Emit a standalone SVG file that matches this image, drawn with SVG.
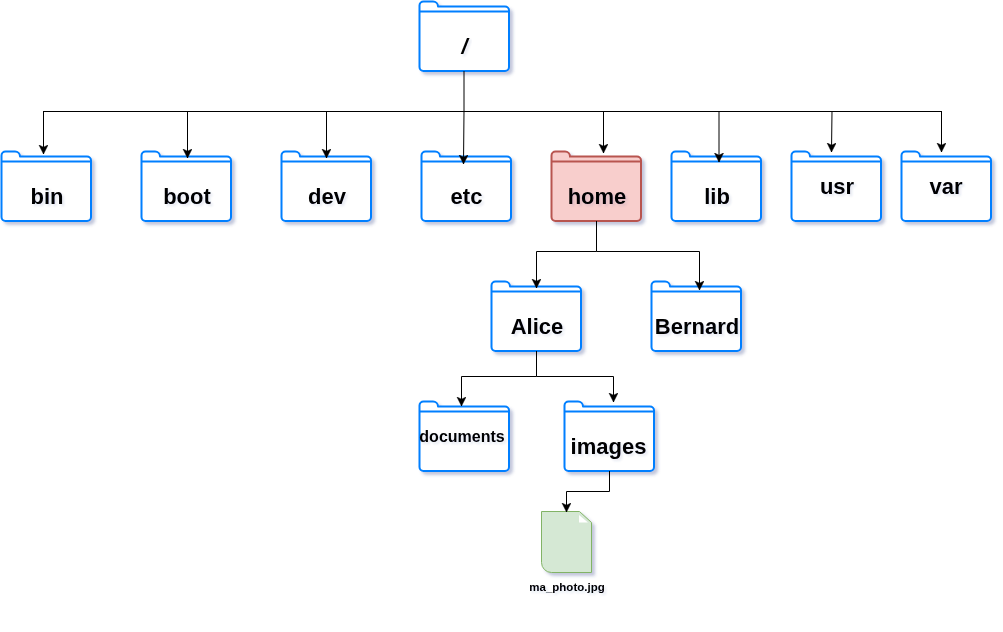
<svg xmlns="http://www.w3.org/2000/svg" xmlns:xlink="http://www.w3.org/1999/xlink" width="1003" height="632" viewBox="0 0 1003 632">
<style>
text{font-family:"Liberation Sans",Arial,sans-serif;font-weight:bold;text-anchor:middle;fill:#000}
.t{font-size:22px}
.f{fill:#fff;stroke:#007fff;stroke-width:2;stroke-linejoin:round}
.c{fill:none;stroke:#000;stroke-width:1}
.h{fill:#f8cecc;stroke:#b85450;stroke-width:2}
.sh{filter:url(#s)}
.ts{filter:url(#st)}
</style>
<defs>
<filter id="s" x="-10%" y="-10%" width="125%" height="125%"><feDropShadow dx="3" dy="3" stdDeviation="1.5" flood-color="#3a4a8a" flood-opacity="0.3"/></filter>
<filter id="st" x="-10%" y="-20%" width="125%" height="150%"><feDropShadow dx="2" dy="2" stdDeviation="1.2" flood-color="#3a4a8a" flood-opacity="0.12"/></filter>
<marker id="a" markerUnits="userSpaceOnUse" markerWidth="11" markerHeight="11" refX="9" refY="4.500" orient="auto"><path d="M0 0L9 4.500L0 9L2.200 4.500Z" fill="#000" stroke="#000" stroke-width="0.5"/></marker>
<g id="fp"><path d="M0 4a4 4 0 0 1 4-4H13.500a5 5 0 0 1 5 5H85.500a4 4 0 0 1 4 4V65.500a4 4 0 0 1-4 4H4a4 4 0 0 1-4-4Z"/><path d="M0 10H89.500" fill="none"/></g>
</defs>
<g id="root"><use xlink:href="#fp" class="f sh" transform="translate(419.500 1.500)"/><text class="t ts" x="464.500" y="54" font-style="italic">/</text></g>
<g id="bin"><use xlink:href="#fp" class="f sh" transform="translate(1.500 151.500)"/><text class="t ts" x="47" y="204">bin</text></g>
<g id="boot"><use xlink:href="#fp" class="f sh" transform="translate(141.500 151.500)"/><text class="t ts" x="187" y="204">boot</text></g>
<g id="dev"><use xlink:href="#fp" class="f sh" transform="translate(281.500 151.500)"/><text class="t ts" x="327" y="204">dev</text></g>
<g id="etc"><use xlink:href="#fp" class="f sh" transform="translate(421.500 151.500)"/><text class="t ts" x="466.500" y="204">etc</text></g>
<g id="home"><use xlink:href="#fp" class="h sh" transform="translate(551.500 151.500)"/><text class="t ts" x="597" y="204">home</text></g>
<g id="lib"><use xlink:href="#fp" class="f sh" transform="translate(671.500 151.500)"/><text class="t ts" x="717" y="204">lib</text></g>
<g id="usr"><use xlink:href="#fp" class="f sh" transform="translate(791.500 151.500)"/><text class="t ts" x="837" y="194">usr</text></g>
<g id="var"><use xlink:href="#fp" class="f sh" transform="translate(901.500 151.500)"/><text class="t ts" x="946" y="194">var</text></g>
<g id="alice"><use xlink:href="#fp" class="f sh" transform="translate(491.500 281.500)"/><text class="t ts" x="537" y="334">Alice</text></g>
<g id="bernard"><use xlink:href="#fp" class="f sh" transform="translate(651.500 281.500)"/><text class="t ts" x="697" y="334">Bernard</text></g>
<g id="documents"><use xlink:href="#fp" class="f sh" transform="translate(419.500 401.500)"/><text class="ts" font-size="16" x="462" y="442">documents</text></g>
<g id="images"><use xlink:href="#fp" class="f sh" transform="translate(564.500 401.500)"/><text class="t ts" x="608.500" y="454">images</text></g>
<g id="ma_photo">
<path class="sh" d="M541.500 511.500H579.500L591.500 522.500V572.500H551.500A10 10 0 0 1 541.500 562.500Z" fill="#d5e8d4" stroke="#82b366"/>
<path d="M579 515V522.500H588Z" fill="#fff"/>
<text class="ts" font-size="11.500" x="567" y="591">ma_photo.jpg</text>
</g>
<g id="connectors">
<path class="c" d="M464 71V111M43.500 111.500H941.500"/>
<path class="c" marker-end="url(#a)" d="M43.500 111V154"/>
<path class="c" marker-end="url(#a)" d="M187.500 111V158"/>
<path class="c" marker-end="url(#a)" d="M326.500 111V158"/>
<path class="c" marker-end="url(#a)" d="M464 111L463.500 164"/>
<path class="c" marker-end="url(#a)" d="M603.500 111V153"/>
<path class="c" marker-end="url(#a)" d="M719 111V162"/>
<path class="c" marker-end="url(#a)" d="M832 111L831.500 152"/>
<path class="c" marker-end="url(#a)" d="M941.500 111V152"/>
<path class="c" marker-end="url(#a)" d="M596.500 221V251.500H536.500V288"/>
<path class="c" marker-end="url(#a)" d="M596.500 251.500H699.500V290"/>
<path class="c" marker-end="url(#a)" d="M536.500 351V376.500H461.500V406"/>
<path class="c" marker-end="url(#a)" d="M536.500 376.500H613.500V402"/>
<path class="c" marker-end="url(#a)" d="M609.500 471V491.500H566.500V512"/>
</g>
</svg>
